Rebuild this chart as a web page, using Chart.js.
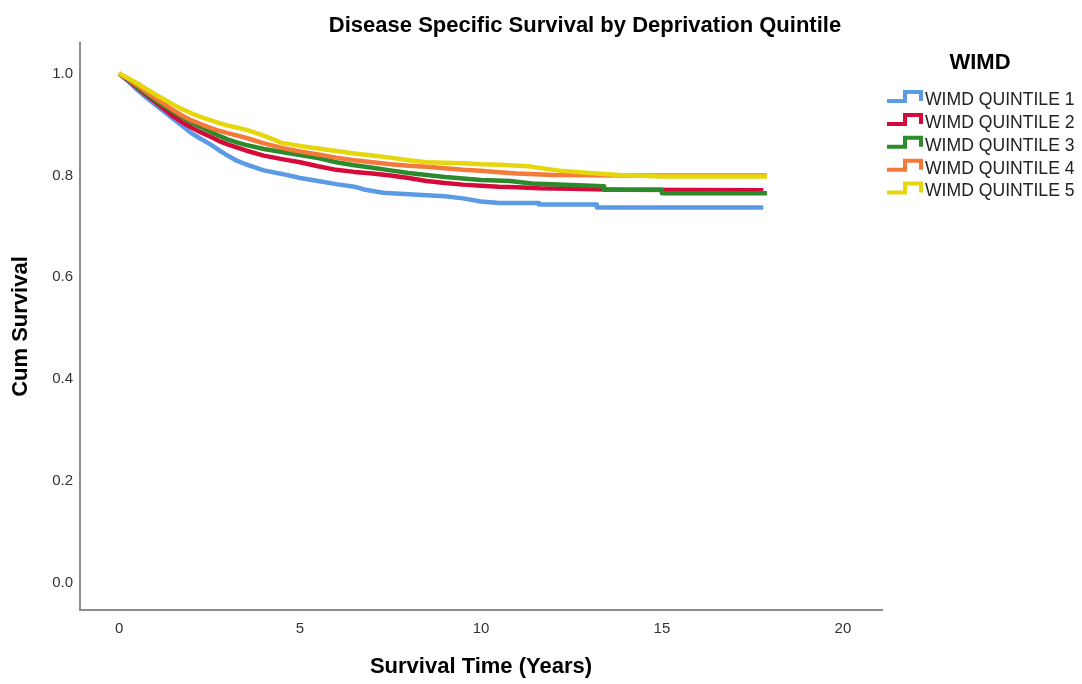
<!DOCTYPE html>
<html lang="en">
<head>
    <meta charset="UTF-8">
    <title>Disease Specific Survival by Deprivation Quintile</title>
    <script src="https://cdn.jsdelivr.net/npm/chart.js"></script>
    <style>
        html, body { margin: 0; padding: 0; background: #fff; }
        #wrap { width: 1082px; height: 684px; position: relative; }
    </style>
</head>
<body>
<div id="wrap"><canvas id="kmChart"></canvas></div>

<script>
    // values (years, cumulative survival)
    // repeated years mark a visible vertical drop in the curve
    const quintileLabels = ['WIMD QUINTILE 1', 'WIMD QUINTILE 2', 'WIMD QUINTILE 3', 'WIMD QUINTILE 4', 'WIMD QUINTILE 5'];

    const q1Years    = [0, 0.25, 0.5, 0.75, 1, 1.25, 1.5, 1.75, 2, 2.25, 2.5, 2.75, 3, 3.25, 3.5, 3.75, 4, 4.5, 5, 5.5, 6, 6.5, 6.8, 7.3, 8, 8.5, 9, 9.5, 10, 10.5, 11.6, 11.6, 13.2, 13.2, 17.8];
    const q1Survival = [1.0, 0.985, 0.968, 0.953, 0.939, 0.925, 0.911, 0.897, 0.883, 0.872, 0.862, 0.850, 0.839, 0.829, 0.822, 0.816, 0.810, 0.803, 0.795, 0.789, 0.783, 0.778, 0.772, 0.766, 0.763, 0.761, 0.759, 0.755, 0.749, 0.746, 0.746, 0.743, 0.743, 0.737, 0.737];

    const q2Years    = [0, 0.25, 0.5, 0.75, 1, 1.25, 1.5, 1.75, 2, 2.25, 2.5, 2.75, 3, 3.25, 3.5, 4, 4.5, 5, 5.5, 6, 6.5, 7, 7.5, 8, 8.5, 9, 9.5, 10, 10.5, 11, 11.6, 12.5, 13.8, 17.8];
    const q2Survival = [1.0, 0.987, 0.972, 0.958, 0.944, 0.930, 0.916, 0.904, 0.894, 0.885, 0.877, 0.868, 0.861, 0.855, 0.849, 0.839, 0.832, 0.826, 0.818, 0.811, 0.807, 0.804, 0.800, 0.795, 0.789, 0.785, 0.782, 0.780, 0.778, 0.777, 0.775, 0.774, 0.772, 0.771];

    const q3Years    = [0, 0.25, 0.5, 0.75, 1, 1.25, 1.5, 1.75, 2, 2.25, 2.5, 2.75, 3, 3.25, 3.5, 4, 4.5, 5, 5.5, 6, 6.5, 7, 7.5, 8, 8.5, 9, 9.5, 10, 10.8, 11.4, 13.4, 13.4, 15.0, 15.0, 17.9];
    const q3Survival = [1.0, 0.988, 0.974, 0.961, 0.948, 0.936, 0.925, 0.914, 0.904, 0.895, 0.887, 0.878, 0.871, 0.865, 0.860, 0.852, 0.846, 0.840, 0.834, 0.826, 0.820, 0.815, 0.810, 0.805, 0.801, 0.797, 0.794, 0.791, 0.789, 0.784, 0.779, 0.772, 0.772, 0.765, 0.765];

    const q4Years    = [0, 0.25, 0.5, 0.75, 1, 1.25, 1.5, 1.75, 2, 2.25, 2.5, 2.75, 3, 3.5, 4, 4.5, 5, 5.5, 6, 6.5, 7, 7.5, 8, 8.5, 9, 9.5, 10, 10.4, 11, 12, 13.9, 17.9];
    const q4Survival = [1.0, 0.989, 0.977, 0.964, 0.952, 0.940, 0.928, 0.917, 0.908, 0.901, 0.894, 0.888, 0.883, 0.874, 0.863, 0.854, 0.847, 0.841, 0.835, 0.830, 0.826, 0.822, 0.819, 0.817, 0.814, 0.811, 0.809, 0.807, 0.804, 0.801, 0.800, 0.800];

    const q5Years    = [0, 0.25, 0.5, 0.75, 1, 1.25, 1.5, 1.75, 2, 2.25, 2.5, 2.75, 3, 3.5, 4, 4.5, 5, 5.5, 6, 6.5, 7, 7.5, 8, 8.5, 9, 9.5, 10, 10.5, 11.3, 12.2, 13, 13.8, 15, 17.9];
    const q5Survival = [1.0, 0.991, 0.981, 0.970, 0.959, 0.949, 0.939, 0.930, 0.922, 0.915, 0.909, 0.903, 0.898, 0.890, 0.878, 0.864, 0.858, 0.853, 0.848, 0.843, 0.839, 0.835, 0.830, 0.826, 0.825, 0.824, 0.822, 0.821, 0.818, 0.809, 0.805, 0.801, 0.798, 0.798];

    const xTicks = [0, 5, 10, 15, 20];
    const yTicks = [0.0, 0.2, 0.4, 0.6, 0.8, 1.0];

    const chartTitle = 'Disease Specific Survival by Deprivation Quintile';
    const legendTitle = 'WIMD';

    const lineColors = ['#5b9be6', '#d50a3a', '#2b8a2b', '#f5793a', '#e6d60c'];
    const FONT = "'Liberation Sans', Arial, sans-serif";

    const series = [
        [q1Years, q1Survival],
        [q2Years, q2Survival],
        [q3Years, q3Survival],
        [q4Years, q4Survival],
        [q5Years, q5Survival]
    ];

    const datasets = series.map((s, i) => ({
        label: quintileLabels[i],
        data: s[0].map((t, j) => ({ x: t, y: s[1][j] })),
        borderColor: lineColors[i],
        borderWidth: 4.5,
        borderJoinStyle: 'round',
        tension: 0,
        pointRadius: 0,
        fill: false,
        order: series.length - 1 - i   // quintile 5 drawn on top
    }));

    // title + step-shaped legend, drawn outside the plot area
    const decor = {
        id: 'decor',
        afterDraw(chart) {
            const c = chart.ctx;
            c.save();
            c.fillStyle = '#000';
            c.textBaseline = 'middle';
            c.textAlign = 'center';
            c.font = 'bold 22px ' + FONT;
            c.fillText(chartTitle, 585, 26);

            c.font = 'bold 22px ' + FONT;
            c.fillText(legendTitle, 980, 63);
            c.font = '17.6px ' + FONT;
            c.textAlign = 'left';
            quintileLabels.forEach((lab, i) => {
                const y = 100 + i * 22.9;
                c.strokeStyle = lineColors[i];
                c.lineWidth = 4;
                c.beginPath();
                c.moveTo(887, y + 1);
                c.lineTo(905, y + 1);
                c.lineTo(905, y - 8);
                c.lineTo(921, y - 8);
                c.lineTo(921, y + 1);
                c.stroke();
                c.fillStyle = '#222';
                c.fillText(lab, 925, y);
            });
            c.restore();
        }
    };

    const ctx = document.getElementById('kmChart').getContext('2d');
    const chart = new Chart(ctx, {
        type: 'line',
        data: { datasets: datasets },
        options: {
            responsive: true,
            maintainAspectRatio: false,
            animation: false,
            layout: { padding: { top: 43, right: 200, left: 0, bottom: 0 } },
            plugins: {
                legend: { display: false },
                title: { display: false },
                tooltip: { enabled: false }
            },
            scales: {
                x: {
                    type: 'linear',
                    min: -1.08,
                    max: 21.08,
                    afterFit: s => { s.height = 74; },
                    afterBuildTicks: s => { s.ticks = xTicks.map(v => ({ value: v })); },
                    grid: { display: false, drawTicks: false },
                    border: { display: true, color: '#8c8c8c', width: 2 },
                    ticks: {
                        padding: 10,
                        color: '#333',
                        font: { family: FONT, size: 15 },
                        maxRotation: 0,
                        callback: v => String(v)
                    },
                    title: {
                        display: true,
                        text: 'Survival Time (Years)',
                        color: '#000',
                        font: { family: FONT, size: 22, weight: 'bold' },
                        padding: { top: 0, bottom: 4 }
                    }
                },
                y: {
                    type: 'linear',
                    min: -0.053,
                    max: 1.06,
                    afterFit: s => { s.width = 80; },
                    afterBuildTicks: s => { s.ticks = yTicks.map(v => ({ value: v })); },
                    grid: { display: false, drawTicks: false },
                    border: { display: true, color: '#8c8c8c', width: 2 },
                    ticks: {
                        padding: 7,
                        color: '#333',
                        font: { family: FONT, size: 15 },
                        callback: v => Number(v).toFixed(1)
                    },
                    title: {
                        display: true,
                        text: 'Cum Survival',
                        color: '#000',
                        font: { family: FONT, size: 22, weight: 'bold' },
                        padding: { top: 8, bottom: 0 }
                    }
                }
            }
        },
        plugins: [decor]
    });
</script>
</body>
</html>
